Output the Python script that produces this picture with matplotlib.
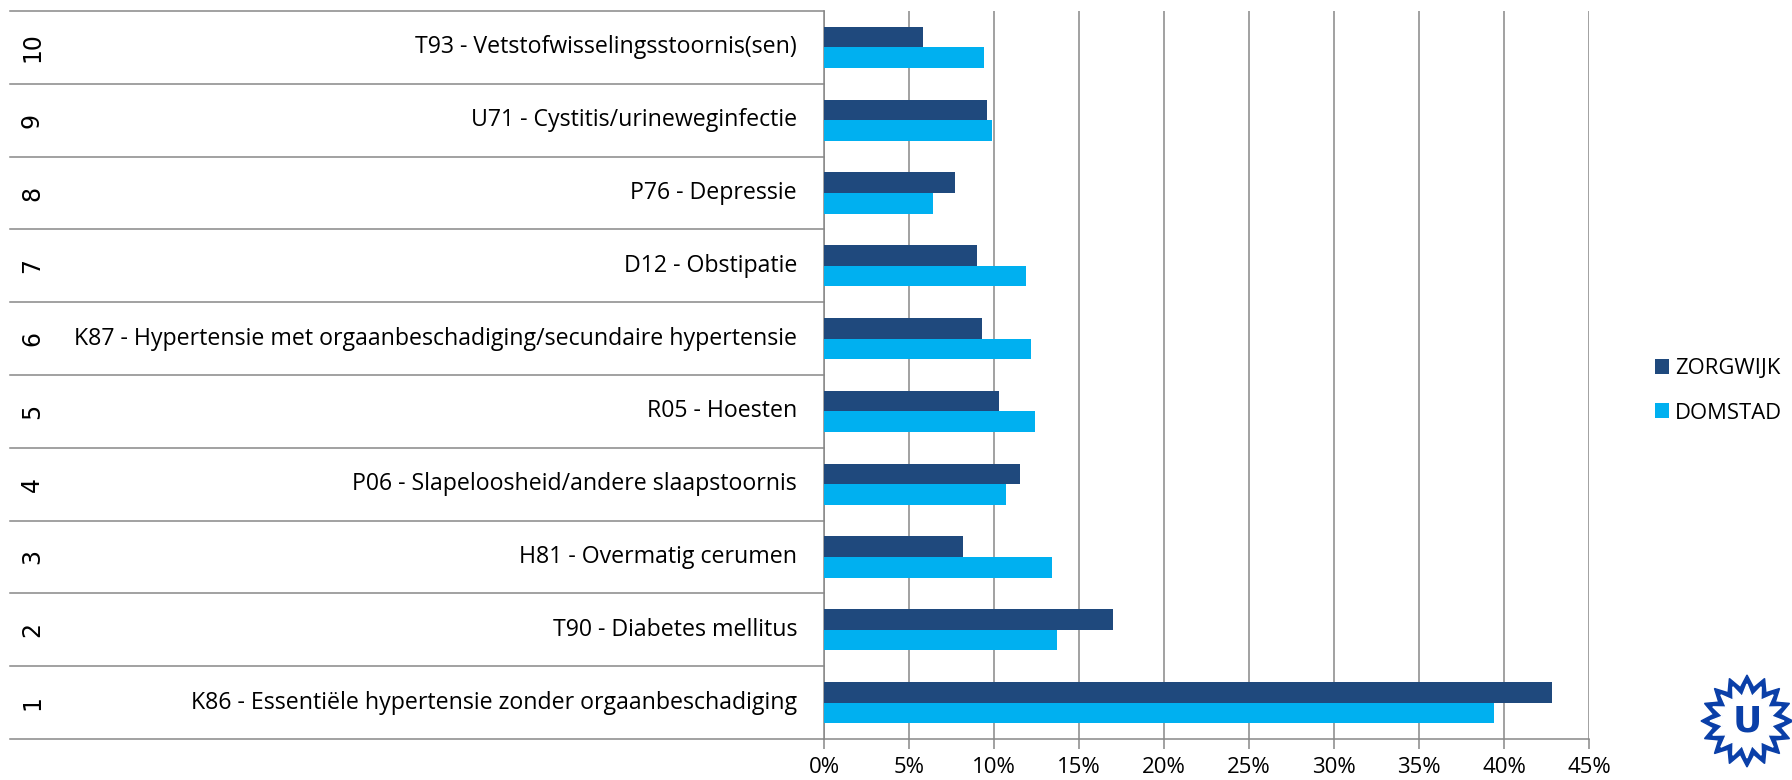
import matplotlib
matplotlib.use("Agg")
import matplotlib.pyplot as plt
import matplotlib.transforms as mtransforms
from matplotlib.patches import Polygon
import numpy as np

ranks = ["1", "2", "3", "4", "5", "6", "7", "8", "9", "10"]
categories = [
    "K86 - Essentiële hypertensie zonder orgaanbeschadiging",
    "T90 - Diabetes mellitus",
    "H81 - Overmatig cerumen",
    "P06 - Slapeloosheid/andere slaapstoornis",
    "R05 - Hoesten",
    "K87 - Hypertensie met orgaanbeschadiging/secundaire hypertensie",
    "D12 - Obstipatie",
    "P76 - Depressie",
    "U71 - Cystitis/urineweginfectie",
    "T93 - Vetstofwisselingsstoornis(sen)",
]
zorgwijk = [42.8, 17.0, 8.2, 11.5, 10.3, 9.3, 9.0, 7.7, 9.6, 5.8]
domstad = [39.4, 13.7, 13.4, 10.7, 12.4, 12.2, 11.9, 6.4, 9.9, 9.4]
series_names = ["ZORGWIJK", "DOMSTAD"]
xticks = [0, 5, 10, 15, 20, 25, 30, 35, 40, 45]
xticklabels = ["0%", "5%", "10%", "15%", "20%", "25%", "30%", "35%", "40%", "45%"]

DARK = "#1F497D"
LIGHT = "#00B0F0"
GRID = "#888888"
FONT = ["Open Sans", "DejaVu Sans"]

W, H = 1792, 780
fig = plt.figure(figsize=(W / 100, H / 100), dpi=100)
ax = fig.add_axes([824 / W, 1 - 739 / H, (1589 - 824) / W, (739 - 11) / H])

y = np.arange(len(categories))
bh = 0.284
ax.barh(y + bh / 2, zorgwijk, height=bh, color=DARK, label=series_names[0], zorder=3)
ax.barh(y - bh / 2, domstad, height=bh, color=LIGHT, label=series_names[1], zorder=3)

ax.set_xlim(0, 45)
ax.set_ylim(-0.5, len(categories) - 0.5)
ax.set_xticks(xticks)
ax.set_xticklabels(xticklabels, fontsize=16, family=FONT)
ax.set_yticks([])
ax.tick_params(axis="x", length=7, width=1.1, color=GRID, pad=6)
ax.xaxis.grid(True, color=GRID, lw=1.1, zorder=0)
ax.set_axisbelow(True)
for s in ["top", "right"]:
    ax.spines[s].set_visible(False)
for s in ["left", "bottom"]:
    ax.spines[s].set_color(GRID)
    ax.spines[s].set_linewidth(1.1)

# table lines and labels at left
tr = mtransforms.blended_transform_factory(fig.transFigure, ax.transData)
for i in range(len(categories) + 1):
    yy = -0.5 + i
    ax.plot([10 / W, 824 / W], [yy, yy], transform=tr, color=GRID, lw=1.1,
            clip_on=False, zorder=1)
for i, (r, c) in enumerate(zip(ranks, categories)):
    ax.text(797 / W, i, c, transform=tr, ha="right", va="center",
            fontsize=16.7, family=FONT, color="black")
    ax.text(32 / W, i, r, transform=tr, ha="center", va="center",
            rotation=90, fontsize=17, family="DejaVu Sans", color="black")

# legend
leg = fig.legend(loc="center left", bbox_to_anchor=(1655 / W, 1 - 391 / H),
                 frameon=False, handlelength=0.65, handleheight=0.65,
                 handletextpad=0.25, labelspacing=1.05, borderaxespad=0,
                 borderpad=0, prop={"family": FONT, "size": 15.8})

# logo (Utrecht University sun)
cx, cy = 1747, 721
def star(r_out, r_in, n, cxp, cyp, rot=0.0):
    pts = []
    for k in range(2 * n):
        ang = rot + np.pi * k / n
        r = r_out if k % 2 == 0 else r_in
        pts.append(((cxp + r * np.cos(ang)) / W, 1 - (cyp + r * np.sin(ang)) / H))
    return pts
BLUE = "#0A3FA8"
fig.patches.append(Polygon(star(46, 34, 16, cx, cy, np.pi / 2), closed=True, color=BLUE,
                           transform=fig.transFigure, figure=fig))
fig.patches.append(Polygon(star(37, 25, 16, cx, cy, np.pi / 2), closed=True, color="white",
                           transform=fig.transFigure, figure=fig))
fig.text(cx / W, 1 - (cy + 1) / H, "U", ha="center", va="center", fontsize=26,
         fontweight="bold", color=BLUE, family="DejaVu Sans")

fig.savefig("out.png", dpi=100)
